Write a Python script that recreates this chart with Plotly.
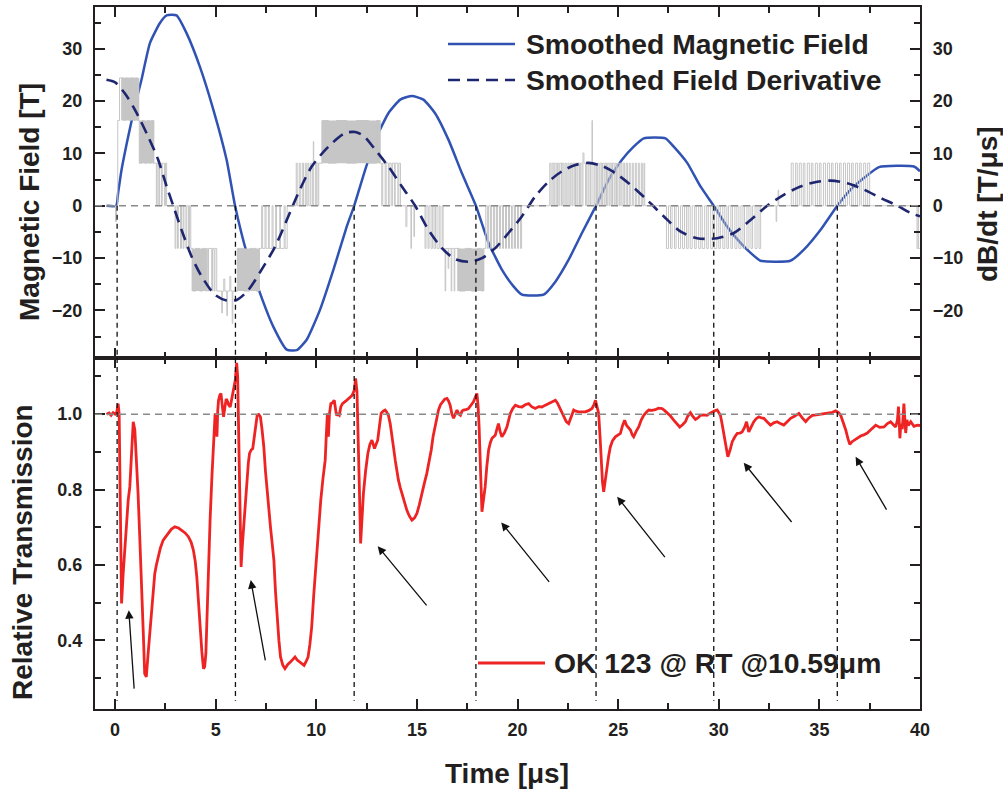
import plotly.graph_objects as go

# ---------------------------------------------------------------- data
# Smoothed magnetic field B(t) [T]
b_t = [-0.43, 0.05, 0.15, 0.32, 0.65, 0.98, 1.31, 1.73, 2.22, 2.56, 3.05, 3.55, 4.21, 4.88,
       5.54, 5.96, 6.54, 7.2, 7.86, 8.53, 9.02, 9.52, 10.18, 10.85, 11.51, 11.88, 12.43,
       12.93, 13.58, 14.17, 14.75, 15.32, 15.9, 16.57, 17.23, 17.93, 18.56, 19.22, 19.8,
       20.22, 21.29, 21.88, 22.54, 23.2, 23.9, 24.53, 25.19, 25.77, 26.27, 27.35, 27.76,
       28.43, 29.09, 29.75, 30.42, 31.08, 31.58, 32.07, 33.56, 34.23, 35.06, 35.89, 36.55,
       37.21, 37.96, 39.7, 40.0]
b_val = [0, 0, 2.5, 6.9, 13.25, 19.0, 24.1, 31.1, 34.9, 36.4, 36.4, 33.0, 26.6, 18.4,
         8.8, 0, -9.0, -16.7, -23.1, -27.5, -27.6, -25.6, -19.9, -12.2, -4.0, 0, 6.9,
         12.6, 17.7, 20.3, 21.0, 20.3, 17.7, 12.6, 6.25, 0, -7.1, -12.2, -15.4,
         -17.0, -17.0, -14.5, -10.3, -5.2, 0, 5.0, 8.8, 11.3, 12.9, 12.9, 11.3,
         8.2, 3.7, 0, -4.0, -7.1, -9.0, -10.5, -10.5, -8.4, -4.6, 0, 3.1,
         5.3, 7.4, 7.5, 6.6]

# Smoothed field derivative dB/dt [T/us]
d_t = [-0.43, 0.0, 0.48, 0.98, 1.64, 2.14, 2.56, 2.89, 3.3, 3.8, 4.3, 4.96, 5.54, 6.04,
       6.62, 7.28, 7.95, 8.61, 9.1, 9.77, 10.6, 11.43, 11.93, 12.34, 12.93, 13.58, 14.25,
       14.91, 15.57, 16.24, 16.9, 17.56, 18.23, 18.89, 19.55, 20.22, 20.88, 21.54, 22.21,
       22.87, 23.53, 24.2, 24.86, 25.52, 26.44, 27.26, 28.09, 28.92, 29.92, 30.75, 31.58,
       32.41, 33.23, 34.06, 34.9, 35.56, 36.39, 37.21, 38.04, 38.88, 39.54, 40.0]
d_val = [24.1, 23.6, 21.5, 18.4, 13.25, 8.8, 3.7, 0, -4.6, -9.7, -13.5, -17.0, -18.1, -18.0,
         -16.1, -12.2, -7.8, -2.0, 2.4, 7.5, 11.3, 13.9, 14.1, 13.4, 10.7, 7.5, 3.7,
         0, -4.6, -8.1, -10.2, -10.7, -10.0, -8.1, -5.2, -2.0, 1.8, 4.6, 6.6,
         7.8, 8.2, 7.6, 6.25, 4.3, 1.1, -2.0, -4.9, -6.2, -6.2, -5.2, -2.7,
         0, 2.1, 3.7, 4.6, 4.8, 4.3, 3.1, 1.5, 0, -1.4, -2.0]

# Raw (quantised) derivative: level switching times and values [T/us]
raw_t = [-0.43, 0.02, 0.07, 0.13, 0.22, 0.45, 0.5, 0.7, 0.75, 0.95, 1.0, 1.12,
         1.2, 1.35, 1.45, 1.6, 1.7, 1.8, 1.9,
         2.05, 2.09, 2.17, 2.21, 2.30, 2.34, 2.45, 2.50, 2.56,
         2.98, 3.02, 3.10, 3.14, 3.25, 3.30, 3.38, 3.42, 3.52, 3.56, 3.65, 3.70, 3.76,
         3.85, 4.0, 4.2, 4.35, 4.5,
         4.55, 4.60, 4.64, 4.80, 4.84, 4.92, 4.96, 5.05, 5.30, 5.33, 5.40, 5.45, 5.55,
         5.58, 5.70, 5.75, 5.82, 5.85,
         6.1, 6.4, 6.7, 7.0, 7.15,
         7.28, 7.33, 7.45, 7.5, 7.62, 7.66, 7.8, 7.85, 7.98, 8.02, 8.18, 8.22, 8.40, 8.45, 8.55,
         9.0, 9.05, 9.15, 9.2, 9.3, 9.36, 9.45, 9.5, 9.58, 9.63, 9.72, 9.80, 9.85, 9.87,
         9.95, 10.0, 10.08, 10.12,
         10.3, 10.6, 11.0, 11.5, 12.0, 12.6, 13.0, 13.15,
         13.25, 13.3, 13.42, 13.47, 13.58, 13.62, 13.72, 13.78, 13.88, 13.92, 14.05, 14.1, 14.18,
         14.45, 14.5, 14.7, 14.73, 14.85, 14.88,
         15.4, 15.45, 15.55, 15.6, 15.7, 15.78, 15.85, 15.92, 16.0, 16.1, 16.15, 16.25, 16.3,
         16.4, 16.43, 16.55, 16.58, 16.7, 16.73, 16.85, 16.88,
         17.1, 17.4, 17.7, 18.0, 18.2, 18.3,
         18.42, 18.5, 18.56, 18.65, 18.7, 18.8, 18.86, 18.95, 19.0, 19.1, 19.15, 19.25, 19.3,
         19.4, 19.45, 19.55, 19.6, 19.7, 19.76, 19.85, 19.9, 20.0, 20.05, 20.15, 20.2,
         21.6, 21.66, 21.72, 21.8, 21.85, 21.92, 21.98, 22.05, 22.1, 22.18, 22.22, 22.3,
         22.36, 22.42, 22.5, 22.56, 22.62, 22.7, 22.75, 22.82, 22.88, 22.95, 23.0, 23.08,
         23.12, 23.2, 23.25, 23.3, 23.38, 23.42, 23.5, 23.55, 23.62, 23.7, 23.72, 23.8,
         23.85, 23.92, 23.98, 24.05, 24.1, 24.18, 24.22, 24.3, 24.35, 24.42, 24.48, 24.55,
         24.6, 24.68, 24.72, 24.8, 24.85, 24.92, 24.98, 25.05, 25.1, 25.18, 25.25, 25.32,
         25.4, 25.46, 25.55, 25.6, 25.7, 25.75, 25.85, 25.9, 26.0, 26.05, 26.15, 26.2,
         26.28, 26.32,
         27.4, 27.5, 27.6, 27.68, 27.8, 27.88, 28.0, 28.1, 28.2, 28.3, 28.4, 28.48, 28.58,
         28.68, 28.8, 28.88, 29.0, 29.1, 29.18, 29.3, 29.4, 29.48, 29.6, 29.7, 29.78, 29.9,
         30.0, 30.08, 30.2, 30.3, 30.4, 30.48, 30.6, 30.68, 30.8, 30.9, 31.0, 31.1, 31.2,
         31.28, 31.4, 31.5, 31.6, 31.68, 31.8, 31.9, 32.0, 32.08,
         32.85, 32.88, 32.95, 32.98,
         33.6, 33.7, 33.82, 33.9, 34.0, 34.1, 34.2, 34.28, 34.4, 34.5, 34.6, 34.68, 34.8,
         34.9, 35.0, 35.08, 35.2, 35.3, 35.4, 35.5, 35.6, 35.68, 35.8, 35.9, 36.0, 36.08,
         36.2, 36.3, 36.4, 36.5, 36.6, 36.68, 36.8, 36.9, 37.0, 37.08, 37.2, 37.3, 37.4, 37.5,
         39.85, 39.9, 39.93, 40.0]
raw_val = [0, -3.0, 0, 16.3, 24.45, 16.3, 24.45, 16.3, 24.45, 16.3, 24.45, 16.3,
           8.15, 16.3, 8.15, 16.3, 8.15, 16.3, 8.15,
           0, 8.15, 0, 8.15, 0, 8.15, 0, 8.15, 0,
           -8.15, 0, -8.15, 0, -8.15, 0, -8.15, 0, -8.15, 0, -8.15, 0, -8.15,
           -16.3, -8.15, -16.3, -8.15, -16.3,
           -8.15, -16.3, -8.15, -16.3, -8.15, -16.3, -8.15, -16.3, -20.5, -16.3, -14.0, -16.3, -21.0,
           -16.3, -13.5, -16.3, -22.5, -16.3,
           -8.15, -16.3, -8.15, -16.3, -8.15,
           0, -8.15, 0, -8.15, 0, -8.15, 0, -8.15, 0, -8.15, 0, -8.15, 0, -8.15, 0,
           8.15, 0, 8.15, 0, 8.15, 0, 8.15, 0, 8.15, 0, 8.15, 0, 12.3, 8.15,
           0, 8.15, 0, 8.15,
           16.3, 8.15, 16.3, 8.15, 16.3, 8.15, 16.3, 8.15,
           0, 8.15, 0, 8.15, 0, 8.15, 0, 8.15, 0, 8.15, 0, 8.15, 0,
           -4.0, 0, -8.15, 0, -5.9, 0,
           -8.15, 0, -8.15, 0, -8.15, 0, -8.15, 0, -8.15, 0, -8.15, 0, -8.15,
           -16.3, -8.15, -12.0, -8.15, -16.3, -8.15, -16.3, -8.15,
           -16.3, -8.15, -16.3, -8.15, -16.3, -8.15,
           0, -8.15, 0, -8.15, 0, -8.15, 0, -8.15, 0, -8.15, 0, -8.15, 0,
           -8.15, 0, -8.15, 0, -8.15, 0, -8.15, 0, -8.15, 0, -8.15, 0,
           8.15, 0, 8.15, 0, 8.15, 0, 8.15, 0, 8.15, 0, 8.15, 0,
           8.15, 0, 8.15, 0, 8.15, 0, 8.15, 0, 8.15, 0, 8.15, 0,
           8.15, 0, 10.1, 8.15, 0, 8.15, 0, 8.15, 0, 16.3, 8.15, 0,
           8.15, 0, 8.15, 0, 8.15, 0, 8.15, 0, 8.15, 0, 8.15, 0,
           8.15, 0, 8.15, 0, 8.15, 0, 8.15, 0, 8.15, 0, 8.15, 0,
           8.15, 0, 8.15, 0, 8.15, 0, 8.15, 0, 8.15, 0, 8.15, 0,
           8.15, 0,
           -8.15, 0, -8.15, 0, -8.15, 0, -8.15, 0, -8.15, 0, -8.15, 0, -8.15,
           0, -8.15, 0, -8.15, 0, -8.15, 0, -8.15, 0, -8.15, 0, -8.15, 0,
           -8.15, 0, -8.15, 0, -8.15, 0, -8.15, 0, -8.15, 0, -8.15, 0, -8.15,
           0, -8.15, 0, -8.15, 0, -8.15, 0, -8.15, 0,
           -3.0, 0, 3.0, 0,
           8.15, 0, 8.15, 0, 8.15, 0, 8.15, 0, 8.15, 0, 8.15, 0, 8.15,
           0, 8.15, 0, 8.15, 0, 8.15, 0, 8.15, 0, 8.15, 0, 8.15, 0,
           8.15, 0, 8.15, 0, 8.15, 0, 8.15, 0, 8.15, 0, 8.15, 0, 8.15, 0,
           -8.15, 0, -8.15, -8.15]

# Intervals where the raw derivative switches too fast to resolve: (start, end, low, high)
band_t0 = [0.30, 1.20, 3.80, 6.05, 10.25, 17.00]
band_t1 = [1.20, 1.95, 4.55, 7.20, 13.20, 18.35]
band_lo = [16.3, 8.15, -16.3, -16.3, 8.15, -16.3]
band_hi = [24.45, 16.3, -8.15, -8.15, 16.3, -8.15]

# Relative transmission of OK 123 at RT, 10.59 um
tr_t = [-0.43, -0.3, -0.2, -0.1, 0.0, 0.08, 0.15, 0.2, 0.26, 0.32, 0.40, 0.48, 0.57, 0.65, 0.73,
        0.82, 0.9, 0.98, 1.06, 1.14, 1.22, 1.31, 1.40, 1.47, 1.55, 1.64, 1.72, 1.81, 1.89, 1.97,
        2.05, 2.14, 2.25, 2.39, 2.52, 2.64, 2.8, 2.97, 3.15, 3.31, 3.48, 3.64, 3.78, 3.89, 3.98,
        4.06, 4.14, 4.22, 4.31, 4.39, 4.45, 4.51, 4.57, 4.64, 4.72, 4.81, 4.9, 4.97, 5.03, 5.06,
        5.1, 5.14, 5.2, 5.26, 5.33, 5.39, 5.46, 5.52, 5.56, 5.64, 5.72, 5.8, 5.89, 5.97, 6.04,
        6.09, 6.13, 6.17, 6.22, 6.26, 6.32, 6.39, 6.47, 6.56, 6.62, 6.68, 6.76, 6.84, 6.92, 7.0,
        7.06, 7.14, 7.22, 7.3, 7.39, 7.47, 7.56, 7.64, 7.72, 7.8, 7.89, 7.97, 8.06, 8.14, 8.22,
        8.33, 8.44, 8.58, 8.72, 8.83, 8.94, 9.05, 9.17, 9.28, 9.39, 9.5, 9.59, 9.68, 9.77, 9.87,
        9.97, 10.1, 10.22, 10.33, 10.44, 10.5, 10.55, 10.6, 10.65, 10.72, 10.8, 10.89, 10.95,
        11.0, 11.07, 11.14, 11.22, 11.3, 11.47, 11.64, 11.78, 11.89, 11.95, 12.02, 12.08, 12.14,
        12.2, 12.26, 12.34, 12.45, 12.56, 12.66, 12.76, 12.89, 12.97, 13.05, 13.14, 13.22, 13.32,
        13.42, 13.5, 13.58, 13.67, 13.75, 13.84, 13.92, 14.0, 14.08, 14.17, 14.25, 14.38, 14.5,
        14.62, 14.75, 14.88, 15.0, 15.12, 15.24, 15.36, 15.49, 15.6, 15.71, 15.8, 15.9, 16.0,
        16.07, 16.17, 16.27, 16.38, 16.49, 16.57, 16.65, 16.74, 16.82, 16.9, 16.99, 17.08, 17.16,
        17.24, 17.31, 17.44, 17.56, 17.7, 17.81, 17.9, 17.98, 18.04, 18.09, 18.16, 18.23, 18.3,
        18.39, 18.47, 18.56, 18.65, 18.73, 18.81, 18.89, 18.97, 19.05, 19.13, 19.22, 19.34,
        19.47, 19.56, 19.64, 19.76, 19.89, 20.05, 20.22, 20.38, 20.55, 20.7, 20.88, 21.05,
        21.21, 21.38, 21.54, 21.7, 21.88, 21.98, 22.07, 22.18, 22.29, 22.42, 22.54, 22.66,
        22.79, 22.9, 23.03, 23.2, 23.37, 23.55, 23.7, 23.8, 23.87, 23.95, 24.03, 24.1, 24.16,
        24.22, 24.28, 24.36, 24.45, 24.53, 24.61, 24.72, 24.86, 24.98, 25.11, 25.22, 25.32,
        25.42, 25.52, 25.61, 25.7, 25.77, 25.9, 26.02, 26.15, 26.27, 26.4, 26.52, 26.68, 26.85,
        27.0, 27.18, 27.3, 27.43, 27.6, 27.76, 27.9, 28.06, 28.2, 28.34, 28.46, 28.59, 28.7,
        28.84, 28.96, 29.09, 29.25, 29.42, 29.55, 29.67, 29.8, 29.92, 30.0, 30.08, 30.16, 30.25,
        30.35, 30.45, 30.56, 30.67, 30.8, 30.92, 31.05, 31.16, 31.28, 31.38, 31.44, 31.49, 31.6,
        31.74, 31.86, 31.99, 32.12, 32.24, 32.4, 32.57, 32.73, 32.9, 33.06, 33.23, 33.4, 33.57,
        33.78, 33.98, 34.15, 34.32, 34.48, 34.65, 34.85, 35.06, 35.27, 35.47, 35.65, 35.81,
        35.95, 36.06, 36.18, 36.31, 36.42, 36.51, 36.62, 36.72, 36.88, 37.05, 37.2, 37.38,
        37.58, 37.8, 38.0, 38.21, 38.38, 38.54, 38.68, 38.79, 38.88, 38.93, 38.96, 39.0, 39.05,
        39.12, 39.2, 39.24, 39.29, 39.35, 39.42, 39.54, 39.7, 39.87, 40.0]
tr_val = [1.0, 1.003, 0.997, 1.004, 1.0, 1.005, 1.028, 1.0, 0.75, 0.498, 0.577, 0.64, 0.684, 0.772, 0.807,
          0.9, 0.98, 0.958, 0.88, 0.79, 0.68, 0.568, 0.42, 0.312, 0.303, 0.365, 0.42, 0.48, 0.535, 0.577,
          0.6, 0.622, 0.645, 0.666, 0.677, 0.684, 0.695, 0.701, 0.698, 0.692, 0.685, 0.675, 0.66, 0.639, 0.61,
          0.568, 0.5, 0.436, 0.37, 0.325, 0.33, 0.365, 0.48, 0.613, 0.72, 0.834, 0.93, 1.002, 0.97, 0.94,
          1.01, 1.037, 1.05, 1.055, 1.02, 0.993, 1.02, 1.04, 1.037, 1.025, 1.019, 1.045, 1.064, 1.09, 1.136,
          1.1, 0.98, 0.878, 0.7, 0.595, 0.65, 0.701, 0.78, 0.834, 0.87, 0.896, 0.905, 0.909, 0.94, 0.985,
          0.997, 0.999, 0.993, 0.96, 0.913, 0.85, 0.79, 0.74, 0.701, 0.66, 0.613, 0.53, 0.454, 0.4, 0.356,
          0.335, 0.325, 0.336, 0.343, 0.35, 0.356, 0.348, 0.343, 0.338, 0.334, 0.345, 0.356, 0.39, 0.436, 0.52,
          0.595, 0.69, 0.772, 0.83, 0.878, 0.95, 1.002, 0.94, 1.0, 1.028, 1.03, 1.037, 1.01,
          0.997, 1.0, 0.997, 1.02, 1.028, 1.035, 1.042, 1.05, 1.064, 1.095, 1.06, 0.95, 0.8,
          0.657, 0.72, 0.79, 0.85, 0.896, 0.92, 0.931, 0.909, 0.92, 0.931, 0.97, 1.002, 1.008,
          1.011, 1.005, 0.997, 0.975, 0.949, 0.91, 0.878, 0.85, 0.825, 0.805, 0.79, 0.765, 0.745,
          0.73, 0.719, 0.725, 0.737, 0.76, 0.79, 0.815, 0.843, 0.87, 0.905, 0.94, 0.966, 0.995,
          1.011, 1.025, 1.033, 1.04, 1.042, 1.035, 1.024, 1.0, 0.989, 1.0, 1.011, 1.0, 0.997,
          1.008, 1.011, 1.012, 1.015, 1.025, 1.033, 1.045, 1.055, 1.02, 0.966, 0.85, 0.741, 0.77,
          0.807, 0.86, 0.905, 0.925, 0.936, 0.94, 0.944, 0.96, 0.975, 0.955, 0.94, 0.95,
          0.966, 0.985, 1.002, 1.015, 1.024, 1.02, 1.019, 1.025, 1.028, 1.02, 1.015, 1.02,
          1.019, 1.024, 1.028, 1.033, 1.037, 1.03, 1.019, 1.005, 0.993, 0.98, 0.975, 0.995,
          1.011, 1.008, 1.006, 1.006, 1.006, 1.01, 1.015, 1.025, 1.037, 1.02, 1.002, 0.94, 0.878,
          0.82, 0.794, 0.83, 0.86, 0.89, 0.913, 0.93, 0.94, 0.945, 0.949, 0.97, 0.984,
          0.97, 0.962, 0.958, 0.945, 0.94, 0.955, 0.966, 0.985, 0.997, 1.005, 1.011, 1.01, 1.012,
          1.016, 1.015, 1.01, 1.004, 0.995, 0.984, 0.975, 0.966, 0.972, 0.98, 0.995, 1.004, 0.995,
          0.986, 0.99, 0.997, 0.998, 0.997, 1.002, 1.006, 1.009, 1.011, 1.005, 0.997, 0.975, 0.949,
          0.91, 0.887, 0.905, 0.927, 0.94, 0.949, 0.95, 0.953, 0.965, 0.98, 0.965, 0.953, 0.965,
          0.98, 0.988, 0.993, 0.99, 0.989, 0.98, 0.971, 0.977, 0.98, 0.975, 0.971, 0.98, 0.989,
          0.995, 1.002, 0.99, 0.98, 0.99, 0.997, 0.998, 1.0, 1.001, 1.002, 1.005, 1.009,
          1.004, 0.997, 0.98, 0.958, 0.935, 0.92, 0.927, 0.931, 0.935, 0.942, 0.945, 0.95,
          0.96, 0.971, 0.965, 0.966, 0.975, 0.98, 0.972, 0.966, 0.985, 1.02, 0.99, 0.936, 0.975,
          0.96, 1.028, 0.97, 0.95, 0.985, 0.97, 0.98, 0.968, 0.971, 0.97]

# Zero crossings of B (vertical markers)
zero_cross_t = [0.1, 5.98, 11.88, 17.93, 23.9, 29.75, 35.89]

# Arrows pointing at the transmission dips: head (t, T) and tail (t, T)
arrow_head_t = [0.68, 6.74, 13.05, 19.19, 24.95, 31.24, 36.8]
arrow_head_v = [0.48, 0.56, 0.65, 0.713, 0.781, 0.871, 0.887]
arrow_tail_t = [0.95, 7.48, 15.54, 21.63, 27.38, 33.68, 38.38]
arrow_tail_v = [0.268, 0.343, 0.489, 0.551, 0.617, 0.71, 0.743]

x_ticks = [0, 5, 10, 15, 20, 25, 30, 35, 40]
b_ticks = [-20, -10, 0, 10, 20, 30]
tr_ticks = [0.4, 0.6, 0.8, 1.0]

# ---------------------------------------------------------------- style
W, H = 1003, 789
FONT = "Liberation Sans, Arial, sans-serif"
INK = "#231f20"
BLUE = "#3053b3"
NAVY = "#1e2670"
RED = "#ee2424"
GREY = "#c6c6c6"

X_L, X_R = 95, 920          # plot frame in px
Y_TOP, Y_MID, Y_BOT = 7, 358, 709
X_RANGE = [-1, 40]
B_RANGE = [-29.1, 38.0]
TR_RANGE = [0.218, 1.149]


def px(x):
    return x / W


def py(y):
    return 1 - y / H


fig = go.Figure()

# raw derivative: unresolved switching bands
bx, by = [], []
for t0, t1, lo, hi in zip(band_t0, band_t1, band_lo, band_hi):
    bx += [t0, t1, t1, t0, t0, None]
    by += [lo, lo, hi, hi, lo, None]
fig.add_trace(go.Scatter(x=bx, y=by, xaxis="x2", yaxis="y3", mode="lines", fill="toself",
                         fillcolor=GREY, line=dict(width=0, color=GREY), hoverinfo="skip",
                         showlegend=False))
fig.add_trace(go.Scatter(x=raw_t, y=raw_val, xaxis="x2", yaxis="y3", mode="lines",
                         line=dict(color=GREY, width=1, shape="hv"), showlegend=False))

fig.add_trace(go.Scatter(x=d_t, y=d_val, xaxis="x2", yaxis="y3", mode="lines",
                         line=dict(color=NAVY, width=2.6, dash="12px,7px", shape="spline",
                                   smoothing=0.8),
                         showlegend=False))
fig.add_trace(go.Scatter(x=b_t, y=b_val, xaxis="x2", yaxis="y2", mode="lines",
                         line=dict(color=BLUE, width=2.5, shape="spline", smoothing=0.5),
                         showlegend=False))

fig.add_trace(go.Scatter(x=tr_t, y=tr_val, xaxis="x", yaxis="y", mode="lines",
                         line=dict(color=RED, width=2.8), showlegend=False))

shapes = []
# reference lines
shapes.append(dict(type="line", xref="x2", yref="y2", x0=X_RANGE[0], x1=X_RANGE[1], y0=0, y1=0,
                   line=dict(color="#8a8a8a", width=1.4, dash="7px,5px")))
shapes.append(dict(type="line", xref="x", yref="y", x0=X_RANGE[0], x1=X_RANGE[1], y0=1.0, y1=1.0,
                   line=dict(color="#8a8a8a", width=1.4, dash="7px,5px")))
for t in zero_cross_t:
    shapes.append(dict(type="line", xref="x2", yref="y2", x0=t, x1=t, y0=0, y1=B_RANGE[0],
                       line=dict(color="#111111", width=1.3, dash="5px,4px")))
    shapes.append(dict(type="line", xref="x", yref="y", x0=t, x1=t, y0=TR_RANGE[1], y1=0.24,
                       line=dict(color="#111111", width=1.3, dash="5px,4px")))

# legend samples
shapes.append(dict(type="line", xref="paper", yref="paper", x0=px(448), x1=px(515),
                   y0=py(44), y1=py(44), line=dict(color=BLUE, width=2.5)))
shapes.append(dict(type="line", xref="paper", yref="paper", x0=px(448), x1=px(515),
                   y0=py(80), y1=py(80), line=dict(color=NAVY, width=2.6, dash="12px,7px")))
shapes.append(dict(type="line", xref="paper", yref="paper", x0=px(478), x1=px(545),
                   y0=py(663), y1=py(663), line=dict(color=RED, width=2.8)))

annotations = []
BIG = dict(family=FONT, size=28, color=INK, weight="bold")
LEG = dict(family=FONT, size=28.3, color=INK, weight="bold")
annotations += [
    dict(text="Smoothed Magnetic Field", xref="paper", yref="paper", x=px(524), y=py(44),
         xanchor="left", yanchor="middle", showarrow=False, font=LEG),
    dict(text="Smoothed Field Derivative", xref="paper", yref="paper", x=px(524), y=py(80),
         xanchor="left", yanchor="middle", showarrow=False, font=LEG),
    dict(text="OK 123 @ RT @10.59μm", xref="paper", yref="paper", x=px(552), y=py(663),
         xanchor="left", yanchor="middle", showarrow=False, font=LEG),
    dict(text="Magnetic Field [T]", xref="paper", yref="paper", x=px(29), y=py(202),
         textangle=-90, xanchor="center", yanchor="middle", showarrow=False, font=BIG),
    dict(text="Relative Transmission", xref="paper", yref="paper", x=px(22), y=py(552),
         textangle=-90, xanchor="center", yanchor="middle", showarrow=False, font=BIG),
    dict(text="dB/dt [T/μs]", xref="paper", yref="paper", x=px(987), y=py(204),
         textangle=-90, xanchor="center", yanchor="middle", showarrow=False, font=BIG),
    dict(text="Time [μs]", xref="paper", yref="paper", x=px(507), y=py(773),
         xanchor="center", yanchor="middle", showarrow=False, font=BIG),
]
for ht, hv, tt, tv in zip(arrow_head_t, arrow_head_v, arrow_tail_t, arrow_tail_v):
    annotations.append(dict(x=ht, y=hv, ax=tt, ay=tv, xref="x", yref="y", axref="x", ayref="y",
                            text="", showarrow=True, arrowhead=2, arrowsize=1.3,
                            arrowwidth=1.3, arrowcolor="#111111", standoff=0))

TICKFONT = dict(family=FONT, size=18, color=INK, weight="bold")
common = dict(showline=True, linecolor=INK, linewidth=2.2, ticks="inside", ticklen=10,
              tickwidth=2, tickcolor=INK, showgrid=False, zeroline=False, tickfont=TICKFONT,
              automargin=False)

fig.update_layout(
    width=W, height=H, margin=dict(l=0, r=0, t=0, b=0, autoexpand=False),
    paper_bgcolor="white", plot_bgcolor="rgba(0,0,0,0)", showlegend=False,
    xaxis=dict(domain=[px(X_L), px(X_R)], anchor="y", range=X_RANGE, tickvals=x_ticks,
               mirror="ticks", ticklabelstandoff=3,
               minor=dict(ticks="inside", ticklen=6, tickwidth=2, tickcolor=INK, dtick=2.5,
                          tick0=0), **common),
    xaxis2=dict(domain=[px(X_L), px(X_R)], anchor="y2", matches="x", range=X_RANGE,
                tickvals=x_ticks, showticklabels=False, mirror="ticks",
                minor=dict(ticks="inside", ticklen=6, tickwidth=2, tickcolor=INK, dtick=2.5,
                           tick0=0), **common),
    yaxis=dict(domain=[py(Y_BOT), py(Y_MID)], anchor="x", range=TR_RANGE, tickvals=tr_ticks,
               tickformat=".1f", mirror="ticks", ticklabelstandoff=7,
               minor=dict(ticks="inside", ticklen=6, tickwidth=2, tickcolor=INK, dtick=0.1,
                          tick0=0), **common),
    yaxis2=dict(domain=[py(Y_MID), py(Y_TOP)], anchor="x2", range=B_RANGE, tickvals=b_ticks,
                ticklabelstandoff=7,
                minor=dict(ticks="inside", ticklen=6, tickwidth=2, tickcolor=INK, dtick=5,
                           tick0=0), **common),
    yaxis3=dict(domain=[py(Y_MID), py(Y_TOP)], anchor="x2", overlaying="y2", side="right",
                range=B_RANGE, tickvals=b_ticks, ticklabelstandoff=7,
                minor=dict(ticks="inside", ticklen=6, tickwidth=2, tickcolor=INK, dtick=5,
                           tick0=0), **common),
    shapes=shapes, annotations=annotations,
)

fig.write_html("out.html")
